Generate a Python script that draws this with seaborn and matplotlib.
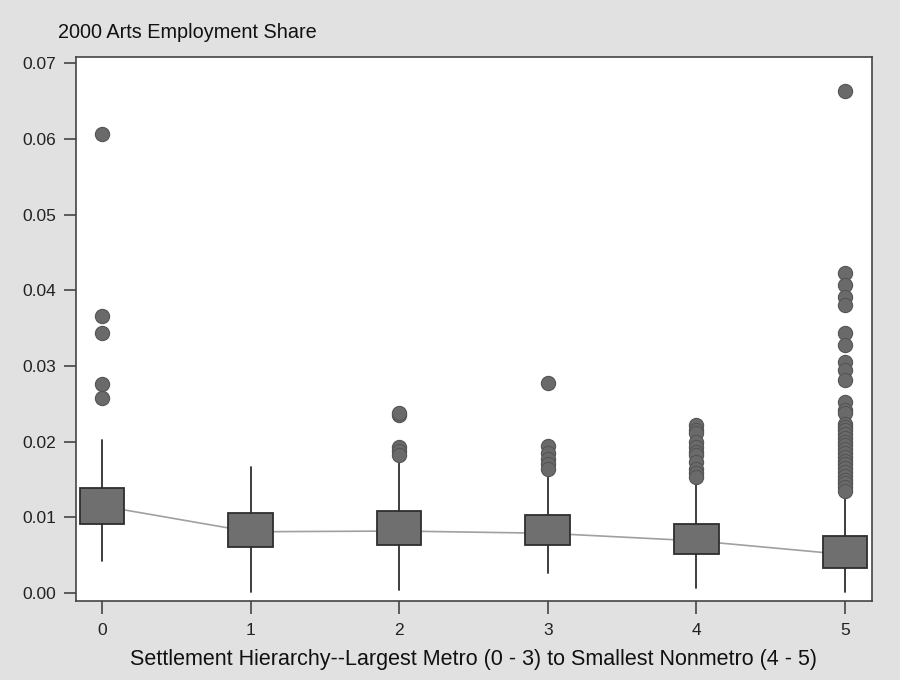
import numpy as np
import pandas as pd
import matplotlib
matplotlib.use("Agg")
import matplotlib.pyplot as plt
import seaborn as sns

# ---------------------------------------------------------------------------
# Data
# ---------------------------------------------------------------------------
groups = [0, 1, 2, 3, 4, 5]
q1 = [0.0091, 0.0061, 0.0063, 0.0063, 0.0052, 0.0033]
q3 = [0.0139, 0.0106, 0.0108, 0.0103, 0.0091, 0.0075]
whisker_lo = [0.0042, 0.0001, 0.0004, 0.0026, 0.0007, 0.0001]
whisker_hi = [0.0202, 0.0166, 0.0172, 0.0156, 0.0145, 0.0127]
means = [0.0115, 0.0081, 0.0082, 0.0079, 0.0069, 0.0051]

outliers_0 = [0.0606, 0.0366, 0.0343, 0.0276, 0.0258]
outliers_1 = []
outliers_2 = [0.0235, 0.0238, 0.0193, 0.0188, 0.0182]
outliers_3 = [0.0277, 0.0194, 0.0185, 0.0177, 0.0170, 0.0164]
outliers_4 = [0.0222, 0.0216, 0.0211, 0.0200, 0.0193, 0.0187, 0.0182,
              0.0173, 0.0164, 0.0158, 0.0153]
outliers_5 = [0.0663, 0.0423, 0.0407, 0.0391, 0.0380, 0.0343, 0.0328,
              0.0305, 0.0295, 0.0281, 0.0252, 0.0242, 0.0238,
              0.0224, 0.0220, 0.0215, 0.0210, 0.0205, 0.0200, 0.0195,
              0.0190, 0.0185, 0.0180, 0.0175, 0.0170, 0.0165, 0.0160,
              0.0155, 0.0150, 0.0145, 0.0140, 0.0135]
outliers = [outliers_0, outliers_1, outliers_2, outliers_3, outliers_4, outliers_5]

y_ticks = [0.00, 0.01, 0.02, 0.03, 0.04, 0.05, 0.06, 0.07]

title = "2000 Arts Employment Share"
x_label = "Settlement Hierarchy--Largest Metro (0 - 3) to Smallest Nonmetro (4 - 5)"

# ---------------------------------------------------------------------------
# Plot
# ---------------------------------------------------------------------------
sns.set_style("white")
plt.rcParams['font.family'] = ['Liberation Sans', 'DejaVu Sans']

bg = '#e1e1e1'
box_face = '#6f6f6f'
dark = '#2e2e2e'

fig = plt.figure(figsize=(9, 6.8), dpi=100, facecolor=bg)
ax = fig.add_axes([0.0844, 0.116, 0.884, 0.800])
ax.set_facecolor('white')

# mean line drawn behind the boxes
mean_df = pd.DataFrame({'group': groups, 'mean': means})
sns.lineplot(data=mean_df, x='group', y='mean', color='#a0a0a0', linewidth=1.2,
             ax=ax, zorder=1)

stats = []
for i in range(len(groups)):
    stats.append({'med': means[i], 'q1': q1[i], 'q3': q3[i],
                  'whislo': whisker_lo[i], 'whishi': whisker_hi[i], 'fliers': []})
ax.bxp(stats, positions=groups, widths=0.3, showfliers=False, patch_artist=True,
       showcaps=False,
       boxprops=dict(facecolor=box_face, edgecolor=dark, linewidth=1.3),
       whiskerprops=dict(color=dark, linewidth=1.3),
       medianprops=dict(linewidth=0),
       manage_ticks=False, zorder=2)

out_df = pd.DataFrame({
    'group': [g for g, vals in zip(groups, outliers) for _ in vals],
    'value': [v for vals in outliers for v in vals],
})
sns.scatterplot(data=out_df, x='group', y='value', s=105, color='#6a6a6a',
                edgecolor='#555555', linewidth=0.8, ax=ax, zorder=3)

ax.set_xlim(-0.175, 5.18)
ax.set_ylim(-0.00106, 0.0708)
ax.set_xticks(groups)
ax.set_xticklabels([str(g) for g in groups])
ax.set_yticks(y_ticks)
ax.set_yticklabels([f"{t:.2f}" for t in y_ticks])
ax.tick_params(axis='both', direction='out', length=9, width=1.2, color='#444444',
               labelsize=12.5, labelcolor='#222222', pad=5, bottom=True, left=True)
ax.tick_params(axis='x', pad=7)
for sp in ax.spines.values():
    sp.set_color('#444444')
    sp.set_linewidth(1.2)

ax.set_xlabel(x_label, fontsize=15.5, color='#111111', labelpad=8)
ax.set_ylabel('')
fig.text(0.065, 0.952, title, fontsize=14.3, color='#111111', ha='left', va='center')

fig.savefig('out.png', dpi=100, facecolor=bg)
